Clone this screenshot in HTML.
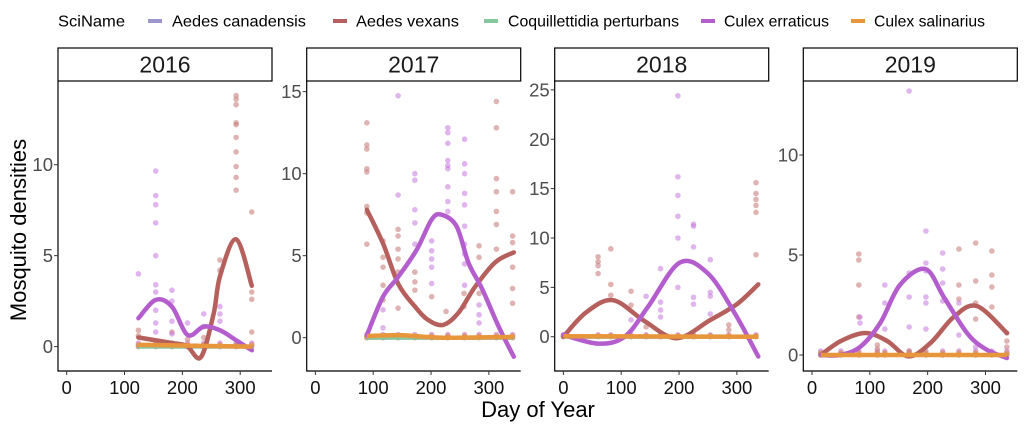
<!DOCTYPE html>
<html><head><meta charset="utf-8"><style>
html,body{margin:0;padding:0;background:#fff;}
svg{display:block;font-family:"Liberation Sans",Arial,sans-serif;}
</style></head><body>
<svg id="chart" width="1024" height="427" viewBox="0 0 1024 427" xmlns="http://www.w3.org/2000/svg">
<g>
<text x="58" y="26.5" font-size="16" textLength="67" lengthAdjust="spacingAndGlyphs" fill="#000">SciName</text>
<g><rect x="148" y="19" width="14" height="4" fill="#9b97cc"/><text x="172" y="26.5" font-size="16" textLength="134" lengthAdjust="spacingAndGlyphs">Aedes canadensis</text></g>
<g><rect x="333" y="19" width="14" height="4" fill="#b5605c"/><text x="356" y="26.5" font-size="16" textLength="103" lengthAdjust="spacingAndGlyphs">Aedes vexans</text></g>
<g><rect x="484" y="19" width="14" height="4" fill="#86c79b"/><text x="508" y="26.5" font-size="16" textLength="171" lengthAdjust="spacingAndGlyphs">Coquillettidia perturbans</text></g>
<g><rect x="701" y="19" width="14" height="4" fill="#b35ecc"/><text x="724" y="26.5" font-size="16" textLength="105" lengthAdjust="spacingAndGlyphs">Culex erraticus</text></g>
<g><rect x="851" y="19" width="14" height="4" fill="#e8963c"/><text x="874" y="26.5" font-size="16" textLength="111" lengthAdjust="spacingAndGlyphs">Culex salinarius</text></g>
</g>
<text x="538" y="417" font-size="22" text-anchor="middle">Day of Year</text>
<text transform="translate(26,230) rotate(-90)" font-size="22" text-anchor="middle">Mosquito densities</text>
</svg>
<script>
const years = ["2016","2017","2018","2019"];
const xTicks = [0,100,200,300];
const yTicks2016 = [0,5,10];
const yTicks2017 = [0,5,10,15];
const yTicks2018 = [0,5,10,15,20,25];
const yTicks2019 = [0,5,10];
const yDomain2016 = [-1.34,14.6];
const yDomain2017 = [-2.03,15.65];
const yDomain2018 = [-3.47,25.9];
const yDomain2019 = [-0.8,13.7];
const xDomain = [-15,355];

const vexDays2016 = [124,182,208,232,254,265,293,320];
const vexVals2016 = [0.5,0.2,0.03,-0.58,1.8,3.85,5.9,3.35];
const errDays2016 = [124,154,182,209,237,265,293,320];
const errVals2016 = [1.56,2.57,2.2,0.64,1.1,0.9,0.35,-0.2];
const vexDays2017 = [89,117,143,172,195,221,247,276,311,343];
const vexVals2017 = [7.8,5.75,3.3,1.9,1.08,0.78,1.5,3.1,4.6,5.2];
const errDays2017 = [89,117,143,175,201,218,244,265,288,317,343];
const errVals2017 = [0.16,2.5,3.7,5.35,7.2,7.5,6.8,4.55,3.0,0.67,-1.16];
const vexDays2018 = [0,40,86,140,196,254,300,337];
const vexVals2018 = [0,2.5,3.7,1.6,-0.15,1.7,3.3,5.3];
const errDays2018 = [0,60,106,146,201,250,296,337];
const errVals2018 = [0.2,-0.7,0,3.0,7.5,6.4,2.4,-2];
const vexDays2019 = [15,50,92,130,167,205,245,285,337];
const vexVals2019 = [0,0.7,1.1,0.7,-0.07,0.6,1.9,2.45,1.1];
const errDays2019 = [15,48,83,118,152,196,228,268,300,337];
const errVals2019 = [0,0,0.4,1.6,3.5,4.3,2.9,1.1,0.3,-0.15];
const salDays = [[124,320],[89,150,220,343],[0,337],[15,337]];
const salVals = [[0.1,0.0],[0.1,0.15,0.0,0.05],[0.05,0.0],[0.0,0.0]];

const vexPtDays2016 = [293,293,293,293,293,293,293,293,293,293,320,320,320,265,265,124,124,182,237,320,209];
const vexPtVals2016 = [13.8,13.6,13.3,12.3,12.2,11.5,10.7,9.9,9.3,8.6,7.4,3.0,2.6,4.76,4.2,0.9,0.6,0.8,0.5,0.8,0.4];
const errPtDays2016 = [124,154,154,154,154,154,154,154,154,154,182,182,182,209,237,237,265,265,265,154,182];
const errPtVals2016 = [4.0,9.65,8.3,7.8,6.8,5.0,3.4,3.0,2.0,1.3,3.1,2.5,1.4,1.3,1.8,1.1,2.2,1.8,1.4,0.8,0.7];
const vexPtDays2017 = [89,89,89,89,89,89,89,89,117,117,117,117,117,143,143,143,143,143,143,172,172,172,201,226,257,257,283,283,283,313,313,313,313,313,313,313,341,341,341,341,341,341];
const vexPtVals2017 = [13.1,11.75,11.5,10.3,10.1,8.0,7.6,5.7,5.9,4.9,4.3,3.2,2.3,6.6,6.2,5.4,4.8,4.0,1.8,4.0,3.4,2.9,2.5,1.6,2.7,1.9,5.6,4.9,2.7,14.4,12.8,9.7,8.9,7.7,6.9,5.4,8.9,6.2,5.8,4.3,3.0,2.1];
const errPtDays2017 = [143,143,172,172,172,172,172,201,201,201,201,201,229,229,229,229,229,229,229,229,229,258,258,258,258,258,258,258,258,258,258,283,283,283,117,117];
const errPtVals2017 = [14.75,8.7,10,9.6,7.8,7.0,5.7,5.9,5.3,4.8,4.3,3.3,12.8,12.5,11.85,10.8,10.5,10.3,9.2,8.3,7.7,12.1,10.6,10,8.8,8.1,6.8,5.7,5.1,4.5,3.2,2.0,1.4,0.9,1.7,0.6];
const vexPtDays2018 = [60,60,60,60,82,82,82,117,117,333,333,333,333,333,333,286,286,143];
const vexPtVals2018 = [8.1,7.6,7.2,6.4,8.9,5.3,4.2,4.6,3.2,15.6,14.5,13.9,13.3,12.6,8.3,1.2,0.7,1.0];
const errPtDays2018 = [198,198,198,198,198,198,225,225,225,225,225,254,254,254,254,168,168,168,168,143,117];
const errPtVals2018 = [24.4,16.2,14.3,12.2,10,5,11.4,11.2,9.1,4.0,3.3,7.8,4.5,4.1,2.3,6.9,3.5,2.7,2.0,4.1,1.7];
const vexPtDays2019 = [81,81,81,81,254,254,254,283,283,283,283,311,311,311,311,337,337,337,113,113,168];
const vexPtVals2019 = [5.05,4.75,3.5,1.9,5.3,3.5,2.8,5.6,3.7,2.6,1.8,5.2,4.0,3.4,2.4,1.1,0.7,0.4,0.5,0.3,0.2];
const errPtDays2019 = [168,197,197,197,197,197,197,168,168,168,126,126,126,226,226,226,226,254,254,83,83,283];
const errPtVals2019 = [13.2,6.2,4.6,4.2,2.9,2.6,1.3,4.1,2.9,1.4,3.5,2.6,1.3,5.1,4.3,3.6,2.7,2.6,1.0,1.9,1.6,0.4];
const zeroPtDays = [[124,154,182,209,237,265,293,320],[89,117,143,172,201,229,258,283,313,341],[0,60,82,117,143,168,198,225,254,286,333],[15,50,81,113,126,168,197,226,254,283,311,337]];

const svg = document.getElementById('chart');
const NS = 'http://www.w3.org/2000/svg';
const C = {can:'#9b97cc',vex:'#b5605c',coq:'#86c79b',err:'#b35ecc',sal:'#e8963c',vexPt:'#c9807d',errPt:'#c777dc'};
const panelLeft = [58,306.7,554.7,803.3];
const PW = 214, TOP = 81, BOT = 371;
function mk(tag, attrs, parent){const e=document.createElementNS(NS,tag);for(const k in attrs)e.setAttribute(k,attrs[k]);(parent||svg).appendChild(e);return e;}
function smooth(pts){
  let d='M'+pts[0][0].toFixed(1)+','+pts[0][1].toFixed(1);
  for(let i=0;i<pts.length-1;i++){
    const p0=pts[i-1]||pts[i],p1=pts[i],p2=pts[i+1],p3=pts[i+2]||p2;
    const c1=[p1[0]+(p2[0]-p0[0])/6,p1[1]+(p2[1]-p0[1])/6];
    const c2=[p2[0]-(p3[0]-p1[0])/6,p2[1]-(p3[1]-p1[1])/6];
    d+=' C'+c1[0].toFixed(1)+','+c1[1].toFixed(1)+' '+c2[0].toFixed(1)+','+c2[1].toFixed(1)+' '+p2[0].toFixed(1)+','+p2[1].toFixed(1);
  }
  return d;
}
const yDomains=[yDomain2016,yDomain2017,yDomain2018,yDomain2019];
const yTickSets=[yTicks2016,yTicks2017,yTicks2018,yTicks2019];
const vexD=[vexDays2016,vexDays2017,vexDays2018,vexDays2019], vexV=[vexVals2016,vexVals2017,vexVals2018,vexVals2019];
const errD=[errDays2016,errDays2017,errDays2018,errDays2019], errV=[errVals2016,errVals2017,errVals2018,errVals2019];
const vpD=[vexPtDays2016,vexPtDays2017,vexPtDays2018,vexPtDays2019], vpV=[vexPtVals2016,vexPtVals2017,vexPtVals2018,vexPtVals2019];
const epD=[errPtDays2016,errPtDays2017,errPtDays2018,errPtDays2019], epV=[errPtVals2016,errPtVals2017,errPtVals2018,errPtVals2019];

years.forEach((yr,i)=>{
  const L=panelLeft[i];
  const xs=d=>L+(d-xDomain[0])/(xDomain[1]-xDomain[0])*PW;
  const yd=yDomains[i];
  const ys=v=>BOT-(v-yd[0])/(yd[1]-yd[0])*(BOT-TOP);
  const g=mk('g',{});
  
  
  const strip=mk('rect',{x:L,y:48,width:PW,height:33,fill:'#fff',stroke:'#000','stroke-width':1.2},g);
  
  
  const st=mk('text',{x:L+PW/2,y:72.5,'font-size':23,'text-anchor':'middle',fill:'#1a1a1a'},g);
  st.textContent=yr;
  
  
  const ax=mk('path',{d:`M${L},${TOP} V${BOT} H${L+PW}`,fill:'none',stroke:'#000','stroke-width':1.2},g);
  
  
  yTickSets[i].forEach(t=>{
    const y=ys(t);
    mk('line',{x1:L-4,x2:L,y1:y,y2:y,stroke:'#333'},g);
    const tl=mk('text',{x:L-5,y:y+6.5,'font-size':18.5,'text-anchor':'end',fill:'#4d4d4d'},g);
    tl.textContent=t;
    
    
  });
  xTicks.forEach(t=>{
    const x=xs(t);
    mk('line',{x1:x,x2:x,y1:BOT,y2:BOT+4,stroke:'#333'},g);
    const tl=mk('text',{x:x,y:394,'font-size':18.5,'text-anchor':'middle',fill:'#111'},g);
    tl.textContent=t;
    
    
  });
  zeroPtDays[i].forEach((d,k)=>{
    [C.coq,C.can,C.errPt,C.vexPt,C.sal].forEach((c,j)=>{
      const p=mk('circle',{cx:xs(d),cy:ys(0.1*(j%3)),r:2.7,fill:c,'fill-opacity':0.6},g);
      
      
    });
  });
  vpD[i].forEach((d,k)=>{
    const p=mk('circle',{cx:xs(d),cy:ys(vpV[i][k]),r:2.8,fill:C.vexPt,'fill-opacity':0.6},g);
    
    
  });
  epD[i].forEach((d,k)=>{
    const p=mk('circle',{cx:xs(d),cy:ys(epV[i][k]),r:2.8,fill:C.errPt,'fill-opacity':0.55},g);
    
    
  });
  const first=vexD[i][0]<errD[i][0]?vexD[i][0]:errD[i][0];
  const last=Math.max(vexD[i][vexD[i].length-1],errD[i][errD[i].length-1]);
  const flat=(c,name,v)=>{
    const l=mk('path',{d:`M${xs(first)},${ys(v)} L${xs(last)},${ys(v)}`,stroke:c,'stroke-width':4,fill:'none'},g);
    
    
  };
  flat(C.can,'line-aedes-canadensis',0);
  flat(C.coq,'line-coquillettidia-perturbans',0);
  const lv=mk('path',{d:smooth(vexD[i].map((d,k)=>[xs(d),ys(vexV[i][k])])),stroke:C.vex,'stroke-width':4.5,fill:'none','stroke-linecap':'round'},g);
  
  
  const le=mk('path',{d:smooth(errD[i].map((d,k)=>[xs(d),ys(errV[i][k])])),stroke:C.err,'stroke-width':4.5,fill:'none','stroke-linecap':'round'},g);
  
  
  const ls=mk('path',{d:smooth(salDays[i].map((d,k)=>[xs(d),ys(salVals[i][k])])),stroke:C.sal,'stroke-width':4.5,fill:'none'},g);
  
  
});
</script>
</body></html>
